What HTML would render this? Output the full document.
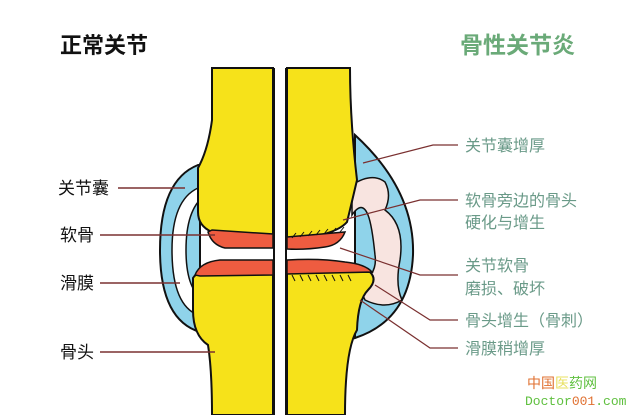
<!DOCTYPE html>
<html><head><meta charset="utf-8"><style>
body{margin:0;background:#fff}
svg{display:block}
text{font-family:"Liberation Sans","Noto Sans CJK SC",sans-serif}
</style></head><body>
<svg width="640" height="415" viewBox="0 0 640 415" xmlns="http://www.w3.org/2000/svg">
<rect width="640" height="415" fill="#fff"/>
<path d="M198,165 Q160,180 160,250 Q160,320 200,332 L200,165 Z" fill="#8fd3ea" stroke="#111" stroke-width="2"/>
<path d="M355,135 Q415,190 413,255 Q410,320 355,338 Z" fill="#8fd3ea" stroke="#111" stroke-width="2"/>
<path d="M198,188 Q172,200 172,250 Q172,305 198,315 L204,300 Q186,290 186,250 Q186,210 204,196 Z" fill="#fff" stroke="#111" stroke-width="1.5"/>
<path d="M352,185 Q372,172 385,182 Q392,195 385,210 Q405,225 400,260 Q395,285 402,300 Q385,310 365,300 L358,285 Q378,275 375,255 Q372,225 368,215 Q362,200 352,215 Z" fill="#f8e4e0" stroke="#111" stroke-width="1.5"/>
<path d="M212,68 L273,68 L273,238 L212,232 Q198,226 198,212 L198,168 Q208,150 212,120 Z" fill="#f6e21a" stroke="#111" stroke-width="2"/>
<path d="M193,278 Q198,270 215,270 L273,270 L273,415 L212,415 Q212,370 208,345 Q193,335 193,310 Z" fill="#f6e21a" stroke="#111" stroke-width="2"/>
<path d="M287,68 L350,68 Q350,120 357,180 Q350,210 347,222 Q335,236 287,240 Z" fill="#f6e21a" stroke="#111" stroke-width="2"/>
<path d="M287,270 L370,272 Q378,280 368,290 Q358,300 357,330 Q345,350 345,415 L287,415 Z" fill="#f6e21a" stroke="#111" stroke-width="2"/>
<path d="M208,232 Q212,245 225,248 L273,248 L273,234 L212,230 Z" fill="#ee5c40" stroke="#111" stroke-width="1.5"/>
<path d="M195,275 Q200,262 220,260 L273,260 L273,275 L200,276 Z" fill="#ee5c40" stroke="#111" stroke-width="1.5"/>
<path d="M287,237 L345,232 Q340,245 325,247 Q305,250 287,249 Z" fill="#ee5c40" stroke="#111" stroke-width="1.5"/>
<path d="M287,260 Q320,258 345,262 Q365,264 372,272 L287,274 Z" fill="#ee5c40" stroke="#111" stroke-width="1.5"/>
<g stroke="#111" stroke-width="1">
<path d="M292,238l4,-5M300,237l4,-5M308,236l4,-5M316,235l4,-5M324,234l4,-5M332,233l4,-5M340,232l4,-5"/>
<path d="M292,275l3,6M300,275l3,6M308,275l3,6M316,275l3,6M324,275l3,6M332,275l3,6M340,275l3,6M348,275l3,6"/>
</g>
<line x1="274" y1="68" x2="274" y2="415" stroke="#111" stroke-width="2"/>
<line x1="286" y1="68" x2="286" y2="415" stroke="#111" stroke-width="2"/>
<g stroke="#7a3030" stroke-width="1.5">
<line x1="118" y1="188" x2="185" y2="188"/>
<line x1="100" y1="235" x2="215" y2="235"/>
<line x1="100" y1="283" x2="180" y2="283"/>
<line x1="100" y1="352" x2="215" y2="352"/>
</g>
<g stroke="#7a3030" stroke-width="1.2">
<polyline points="363,163 433,145 458,145" fill="none"/>
<polyline points="343,220 420,200 458,200" fill="none"/>
<polyline points="340,248 420,275 458,275" fill="none"/>
<polyline points="375,285 430,320 458,320" fill="none"/>
<polyline points="360,300 430,348 458,348" fill="none"/>
</g>
<text x="60" y="53" font-size="22" font-weight="bold" fill="#111">正常关节</text>
<text x="460" y="53" font-size="23" font-weight="bold" fill="#6aaa78">骨性关节炎</text>
<g font-size="17" fill="#111">
<text x="58" y="194">关节囊</text>
<text x="60" y="241">软骨</text>
<text x="60" y="289">滑膜</text>
<text x="60" y="358">骨头</text>
</g>
<g font-size="16" fill="#6a9a88">
<text x="465" y="151">关节囊增厚</text>
<text x="465" y="206">软骨旁边的骨头</text>
<text x="465" y="228">硬化与增生</text>
<text x="465" y="271">关节软骨</text>
<text x="465" y="294">磨损、破坏</text>
<text x="465" y="326">骨头增生（骨刺）</text>
<text x="465" y="354">滑膜稍增厚</text>
</g>
<text x="527" y="388" font-size="14" fill="#e07030">中国<tspan fill="#e8e060">医</tspan><tspan fill="#60c040">药网</tspan></text>
<text x="525" y="405" font-size="13" style="font-family:'Liberation Mono',monospace" fill="#60c040">Doctor<tspan fill="#e07030">001</tspan>.com</text>
</svg>
</body></html>
